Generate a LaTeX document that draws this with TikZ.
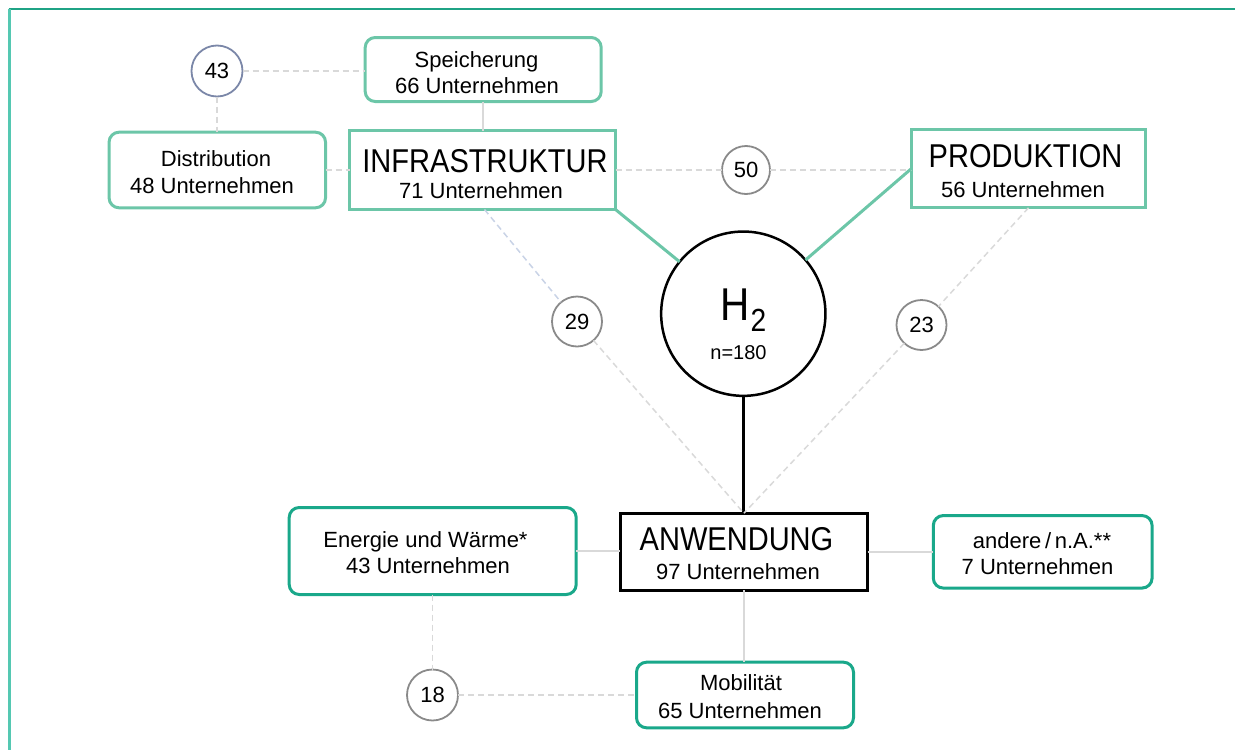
\documentclass[tikz,border=0pt]{standalone}
\usepackage{fontspec}
\setmainfont{Liberation Sans}
\newfontfamily\bigf[FakeStretch=0.88]{Liberation Sans}
\definecolor{tealL}{HTML}{6CC6A8}
\definecolor{tealD}{HTML}{1AA88A}
\definecolor{frameT}{HTML}{1FA385}
\definecolor{frameL}{HTML}{55C8B2}
\definecolor{dashG}{HTML}{D9D9D9}
\definecolor{dashB}{HTML}{C9D3E6}
\definecolor{circG}{HTML}{8A8A8A}
\definecolor{circB}{HTML}{7B87A8}
\begin{document}
\begin{tikzpicture}[x=1pt,y=-1pt,
  every node/.style={inner sep=0pt, outer sep=0pt},
  sm/.style={font=\fontsize{22}{26}\selectfont, anchor=base},
  bg/.style={font=\bigf\fontsize{33}{38}\selectfont, anchor=base},
  rbox/.style={draw=#1, line width=3pt, rounded corners=10pt, rectangle},
  sbox/.style={draw=#1, line width=3pt, rectangle},
  num/.style={circle, draw=circG, line width=1.8pt, font=\fontsize{22}{26}\selectfont},
  dsh/.style={draw=dashG, line width=1.5pt, dash pattern=on 6pt off 4pt},
  dshB/.style={draw=dashB, line width=1.5pt, dash pattern=on 6pt off 4pt},
  sol/.style={draw=dashG, line width=2pt},
  grn/.style={draw=tealL, line width=3pt},
]
\useasboundingbox (0,0) rectangle (1235,750);
% frame
\draw[frameT, line width=2.5pt] (8.5,9) -- (1235,9);
\draw[frameL, line width=3pt] (9.5,9) -- (9.5,750);

% boxes
\node[rbox=tealL, minimum width=236pt, minimum height=64pt] (spe) at (483.2,69.5) {};
\node[rbox=tealL, minimum width=216.5pt, minimum height=75.6pt] (dis) at (217.3,170) {};
\node[sbox=tealL, minimum width=266pt, minimum height=79pt] (inf) at (482.5,170) {};
\node[sbox=tealL, minimum width=234pt, minimum height=78.6pt] (pro) at (1028.5,168.5) {};
\node[sbox=black, minimum width=247.3pt, minimum height=77pt] (anw) at (743.9,551.7) {};
\node[rbox=tealD, minimum width=287pt, minimum height=87pt] (ene) at (432.7,551) {};
\node[rbox=tealD, minimum width=217pt, minimum height=65.6pt] (mob) at (745,695) {};
\node[rbox=tealD, minimum width=218.8pt, minimum height=72.5pt] (and) at (1042.7,551.8) {};

% circles
\node[num, draw=circB, minimum size=51pt] (c43) at (217,71) {43};
\node[num, minimum size=48pt] (c50) at (746,170) {50};
\node[num, minimum size=50pt] (c29) at (577,321.5) {29};
\node[num, minimum size=50pt] (c23) at (921.5,325) {23};
\node[num, minimum size=51pt] (c18) at (432.5,695) {18};
\node[circle, draw=black, line width=2.5pt, minimum size=164.3pt] (h2) at (743.3,313.7) {};

% texts
\node[sm] (spe1) at (476.5,67) {Speicherung};
\node[sm] (spe2) at (477,93) {66 Unternehmen};
\node[sm] (dis1) at (216,166) {Distribution};
\node[sm] (dis2) at (212,193) {48 Unternehmen};
\node[bg] (inf1) at (485,172) {INFRASTRUKTUR};
\node[sm] (inf2) at (481,198) {71 Unternehmen};
\node[bg] (pro1) at (1025.5,167) {PRODUKTION};
\node[sm] (pro2) at (1023,197) {56 Unternehmen};
\node[bg] (anw1) at (736.5,550) {ANWENDUNG};
\node[sm] (anw2) at (738,579) {97 Unternehmen};
\node[sm] (ene1) at (425.5,547) {Energie und Wärme*};
\node[sm] (ene2) at (428,573) {43 Unternehmen};
\node[sm] (and1) at (1042,548) {andere\,/\,n.A.**};
\node[sm] (and2) at (1037.5,574) {7 Unternehmen};
\node[sm] (mob1) at (741,690) {Mobilität};
\node[sm] (mob2) at (740,718) {65 Unternehmen};
\node[anchor=base west, font=\bigf\fontsize{46}{50}\selectfont] (hh) at (720.5,320) {H};
\node[anchor=base west, font=\bigf\fontsize{32}{36}\selectfont] (hsub) at (750.5,331) {2};
\node[font=\fontsize{20}{24}\selectfont, anchor=base] (nn) at (738.5,359) {n=180};

% connectors
\draw[dsh] (c43) -- (c43 -| spe.west);
\draw[dsh] (c43) -- (c43 |- dis.north);
\draw[dsh] (dis.east) -- (dis.east -| inf.west);
\draw[sol] (spe.south) -- (spe.south |- inf.north);
\draw[dsh] (inf.east) -- (c50);
\draw[dsh] (c50) -- (c50 -| pro.west);
\draw[grn] (inf.south east) -- (h2);
\draw[grn] (pro.west) -- (h2);
\draw[line width=3pt] (h2.south) -- (h2.south |- anw.north);
\draw[dshB] ([xshift=2pt]inf.south) -- (c29);
\draw[dsh] (c29) -- (anw.north);
\draw[dsh] (pro.south) -- (c23);
\draw[dsh] (c23) -- (anw.north);
\draw[sol] (ene.east) -- (ene.east -| anw.west);
\draw[sol] (anw.east) -- (anw.east -| and.west);
\draw[sol] (anw.south) -- (anw.south |- mob.north);
\draw[dsh] (ene.south -| c18) -- (c18);
\draw[dsh] (c18) -- (c18 -| mob.west);
\end{tikzpicture}
\end{document}
